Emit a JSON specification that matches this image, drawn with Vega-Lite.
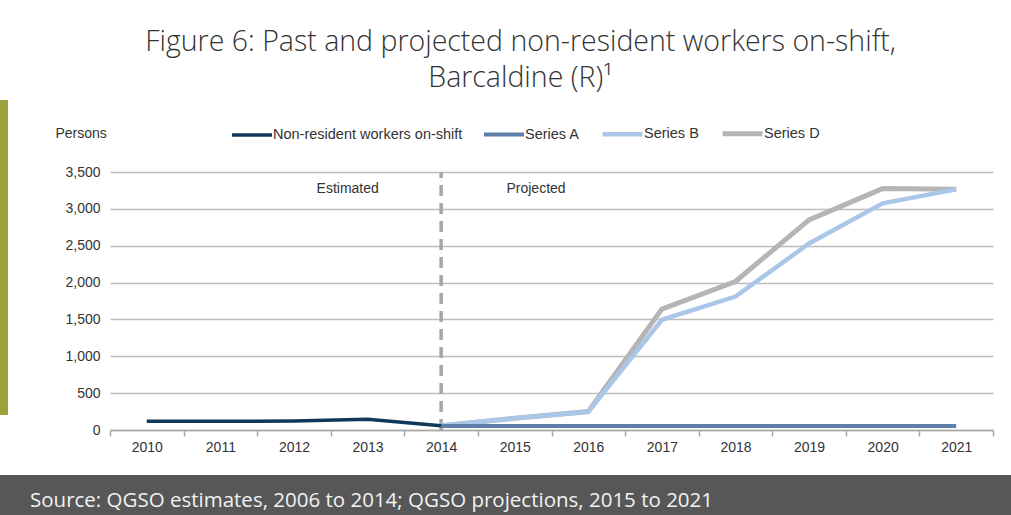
{
  "$schema": "https://vega.github.io/schema/vega-lite/v6.json",
  "background": "white",
  "padding": {"left": 0, "top": 27, "right": 0, "bottom": 0},
  "spacing": 0,
  "config": {"view": {"stroke": null}, "font": "Liberation Sans"},
  "datasets": {
    "series": [
      {"series": "Series D", "year": 2014, "value": 58},
      {"series": "Series D", "year": 2015, "value": 160},
      {"series": "Series D", "year": 2016, "value": 250},
      {"series": "Series D", "year": 2017, "value": 1640},
      {"series": "Series D", "year": 2018, "value": 2015},
      {"series": "Series D", "year": 2019, "value": 2850},
      {"series": "Series D", "year": 2020, "value": 3275},
      {"series": "Series D", "year": 2021, "value": 3265},
      {"series": "Series B", "year": 2014, "value": 58},
      {"series": "Series B", "year": 2015, "value": 160},
      {"series": "Series B", "year": 2016, "value": 248},
      {"series": "Series B", "year": 2017, "value": 1495},
      {"series": "Series B", "year": 2018, "value": 1810},
      {"series": "Series B", "year": 2019, "value": 2530},
      {"series": "Series B", "year": 2020, "value": 3075},
      {"series": "Series B", "year": 2021, "value": 3265},
      {"series": "Series A", "year": 2014, "value": 55},
      {"series": "Series A", "year": 2015, "value": 55},
      {"series": "Series A", "year": 2016, "value": 55},
      {"series": "Series A", "year": 2017, "value": 55},
      {"series": "Series A", "year": 2018, "value": 55},
      {"series": "Series A", "year": 2019, "value": 55},
      {"series": "Series A", "year": 2020, "value": 55},
      {"series": "Series A", "year": 2021, "value": 55},
      {"series": "Non-resident workers on-shift", "year": 2010, "value": 120},
      {"series": "Non-resident workers on-shift", "year": 2011, "value": 118},
      {"series": "Non-resident workers on-shift", "year": 2012, "value": 122},
      {"series": "Non-resident workers on-shift", "year": 2013, "value": 145},
      {"series": "Non-resident workers on-shift", "year": 2014, "value": 58}
    ],
    "divider": [{"year": 2014, "value": 0, "value2": 3500}],
    "notes": [
      {"label": "Estimated", "year": 2012.73, "value": 3270},
      {"label": "Projected", "year": 2015.29, "value": 3270}
    ]
  },
  "vconcat": [
    {
      "spacing": 0,
      "hconcat": [
        {
          "width": 8,
          "height": 315,
          "view": {"fill": "#9ca33b", "stroke": null},
          "data": {"values": [{}]},
          "mark": {"type": "text", "text": ""}
        },
        {
          "width": 883,
          "height": 330,
          "title": {
            "text": ["Figure 6: Past and projected non-resident workers on-shift,", "Barcaldine (R)¹"],
            "font": "Open Sans",
            "fontSize": 28.5,
            "fontWeight": 300,
            "color": "#333333",
            "lineHeight": 36,
            "anchor": "middle",
            "frame": "group",
            "dx": -31,
            "offset": 8
          },
          "encoding": {
            "x": {
              "field": "year",
              "type": "quantitative",
              "scale": {"domain": [2009.5, 2021.5], "nice": false, "zero": false},
              "axis": {
                "values": [2009.5, 2010.5, 2011.5, 2012.5, 2013.5, 2014.5, 2015.5, 2016.5, 2017.5, 2018.5, 2019.5, 2020.5, 2021.5],
                "labelExpr": "datum.value < 2021 ? format(datum.value + 0.5, 'd') : ''",
                "labelOffset": 36.8,
                "labelFlush": false,
                "labelOverlap": false,
                "labelPadding": 4,
                "labelFontSize": 14,
                "labelColor": "#333333",
                "tickSize": 6,
                "tickColor": "#a8a8a8",
                "tickWidth": 1.5,
                "domainColor": "#a8a8a8",
                "domainWidth": 1.5,
                "grid": false,
                "title": null,
                "minExtent": 45,
                "maxExtent": 45
              }
            },
            "y": {
              "field": "value",
              "type": "quantitative",
              "scale": {"domain": [0, 4477], "nice": false},
              "axis": {
                "values": [0, 500, 1000, 1500, 2000, 2500, 3000, 3500],
                "format": ",.0f",
                "domain": false,
                "ticks": false,
                "labelPadding": 10,
                "labelFontSize": 14,
                "labelColor": "#333333",
                "gridColor": "#bdbdbd",
                "gridWidth": 1.5,
                "title": "Persons",
                "titleAngle": 0,
                "titleAlign": "left",
                "titleBaseline": "middle",
                "titleX": -55,
                "titleY": 33,
                "titleFontSize": 14,
                "titleFontWeight": "normal",
                "titleColor": "#333333",
                "minExtent": 102,
                "maxExtent": 102
              }
            }
          },
          "layer": [
            {
              "data": {"name": "divider"},
              "mark": {"type": "rule", "color": "#a6a6a6", "strokeWidth": 3.5, "strokeDash": [11, 7]},
              "encoding": {"y2": {"field": "value2"}}
            },
            {
              "data": {"name": "notes"},
              "mark": {"type": "text", "fontSize": 14, "color": "#333333", "align": "center", "baseline": "middle"},
              "encoding": {"text": {"field": "label"}}
            },
            {
              "data": {"name": "series"},
              "mark": {"type": "line", "strokeCap": "butt"},
              "encoding": {
                "color": {
                  "field": "series",
                  "type": "nominal",
                  "scale": {
                    "domain": ["Non-resident workers on-shift", "Series A", "Series B", "Series D"],
                    "range": ["#0f385c", "#5f7fab", "#aac6e8", "#b5b5b5"]
                  },
                  "legend": {
                    "orient": "none",
                    "legendX": 230,
                    "legendY": 11,
                    "direction": "horizontal",
                    "title": null,
                    "symbolType": "stroke",
                    "symbolSize": 1600,
                    "symbolStrokeWidth": 4,
                    "labelFontSize": 14.5,
                    "labelColor": "#333333",
                    "labelOffset": -1,
                    "labelLimit": 400,
                    "columnPadding": 13,
                    "padding": 0
                  }
                },
                "strokeWidth": {
                  "field": "series",
                  "type": "nominal",
                  "scale": {
                    "domain": ["Non-resident workers on-shift", "Series A", "Series B", "Series D"],
                    "range": [3.5, 5, 3, 3]
                  },
                  "legend": null
                }
              }
            }
          ]
        }
      ]
    },
    {
      "width": 1011,
      "height": 40,
      "view": {"fill": "#575757", "stroke": null},
      "title": {
        "text": "Source: QGSO estimates, 2006 to 2014; QGSO projections, 2015 to 2021",
        "orient": "top",
        "anchor": "start",
        "frame": "group",
        "offset": -36,
        "dx": 30,
        "color": "#f2f2f2",
        "font": "Open Sans",
        "fontSize": 20.5,
        "fontWeight": "normal"
      },
      "data": {"values": [{}]},
      "mark": {"type": "text", "text": ""}
    }
  ]
}
